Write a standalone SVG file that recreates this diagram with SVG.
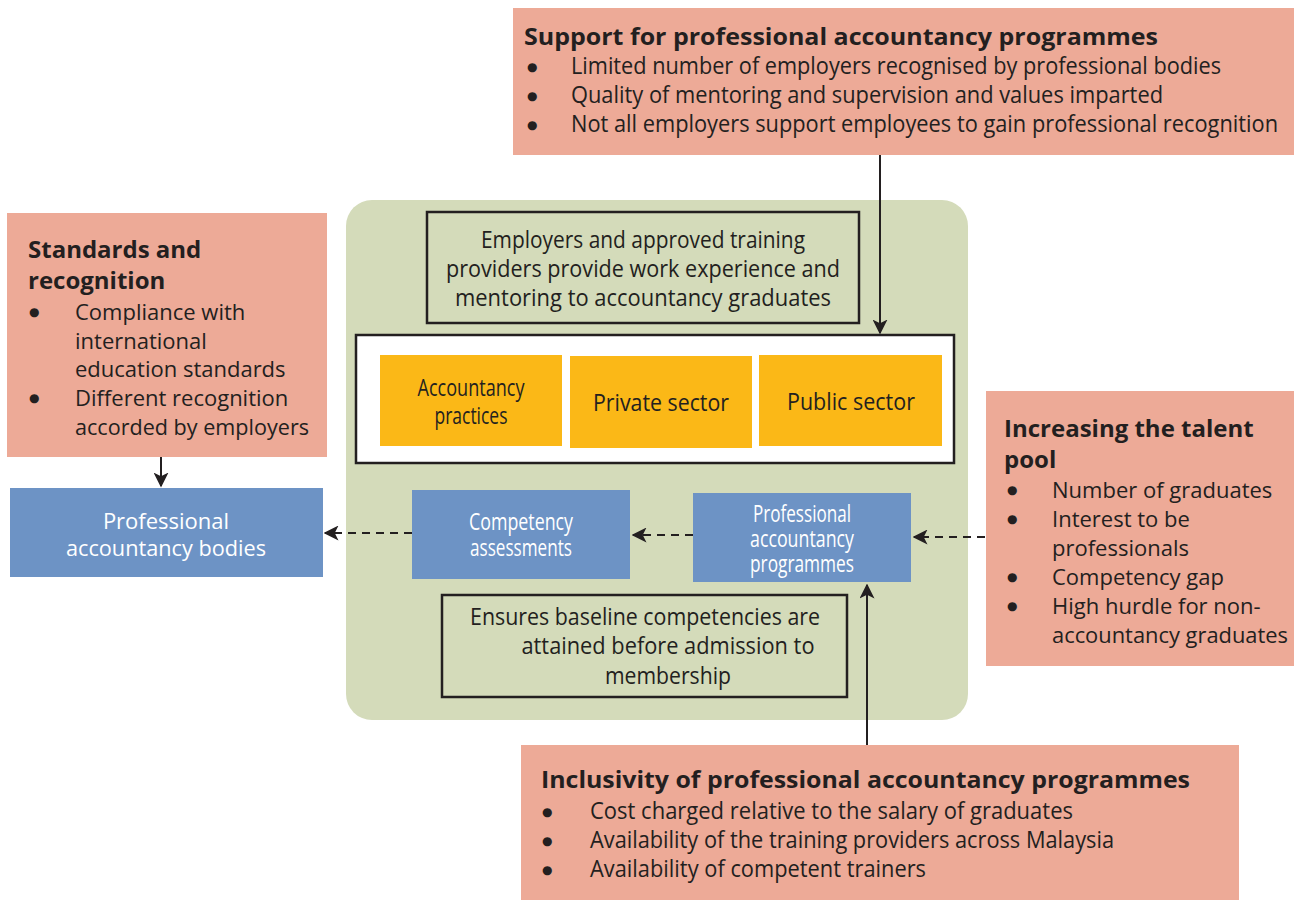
<svg xmlns="http://www.w3.org/2000/svg" width="1294" height="901" viewBox="0 0 1294 901">
<style>
.t{font-family:"Open Sans","Noto Sans",sans-serif;fill:#231F20;font-size:22px}
.n{font-size:24px}
.s{font-size:23px}
.b{font-weight:bold;font-size:24px}
.bu{font-family:"DejaVu Sans",sans-serif;fill:#231F20;font-size:12px}
.w{fill:#FFFFFF;text-anchor:middle}
.c{text-anchor:middle}
.pink{fill:#EDAA97}
.blue{fill:#6D93C5}
.org{fill:#FBB817}
.ln{stroke:#231F20;stroke-width:2;fill:none}
.dash{stroke:#231F20;stroke-width:2.2;fill:none;stroke-dasharray:8,6}
</style>
<defs>
<marker id="ah2" viewBox="0 0 10 10" refX="9" refY="5" markerWidth="15" markerHeight="15" markerUnits="userSpaceOnUse" orient="auto">
<path d="M0,0 L10,5 L0,10 L2.5,5 Z" fill="#231F20"/>
</marker>
</defs>
<rect x="0" y="0" width="1294" height="901" fill="#FFFFFF"/>

<g id="center-bg">
<rect x="346" y="200" width="622" height="520" rx="26" fill="#D4DBBA"/>
</g>

<g id="top-box">
<rect class="pink" x="513" y="8" width="781" height="147"/>
<text class="t b" x="524" y="45" textLength="634" lengthAdjust="spacingAndGlyphs">Support for professional accountancy programmes</text>
<text class="bu" x="527" y="71">●</text>
<text class="t n" x="571" y="74" textLength="650" lengthAdjust="spacingAndGlyphs">Limited number of employers recognised by professional bodies</text>
<text class="bu" x="527" y="100">●</text>
<text class="t n" x="571" y="103" textLength="592" lengthAdjust="spacingAndGlyphs">Quality of mentoring and supervision and values imparted</text>
<text class="bu" x="527" y="129">●</text>
<text class="t n" x="571" y="132" textLength="707" lengthAdjust="spacingAndGlyphs">Not all employers support employees to gain professional recognition</text>
</g>

<g id="left-box">
<rect class="pink" x="7" y="213" width="320" height="244"/>
<text class="t b" x="28" y="258">Standards and</text>
<text class="t b" x="28" y="289">recognition</text>
<text class="bu" x="29" y="316">●</text>
<text class="t" x="75" y="320">Compliance with</text>
<text class="t" x="75" y="349">international</text>
<text class="t" x="75" y="377">education standards</text>
<text class="bu" x="29" y="402">●</text>
<text class="t" x="75" y="406">Different recognition</text>
<text class="t" x="75" y="435" textLength="234" lengthAdjust="spacingAndGlyphs">accorded by employers</text>
</g>

<g id="bodies">
<rect class="blue" x="10" y="488" width="313" height="89"/>
<text class="t w" x="166" y="529">Professional</text>
<text class="t w" x="166" y="556" textLength="200" lengthAdjust="spacingAndGlyphs">accountancy bodies</text>
</g>

<g id="employers">
<rect x="427" y="212" width="432" height="111" fill="none" stroke="#231F20" stroke-width="2.5"/>
<text class="t n c" x="643" y="248" textLength="324" lengthAdjust="spacingAndGlyphs">Employers and approved training</text>
<text class="t n c" x="643" y="277" textLength="394" lengthAdjust="spacingAndGlyphs">providers provide work experience and</text>
<text class="t n c" x="643" y="306" textLength="376" lengthAdjust="spacingAndGlyphs">mentoring to accountancy graduates</text>
</g>

<g id="sectors">
<rect x="356" y="335" width="598" height="128" fill="#FFFFFF" stroke="#231F20" stroke-width="2.5"/>
</g>
<g id="practices">
<rect class="org" x="380" y="355" width="182" height="91"/>
<text class="t n c" x="471" y="396" textLength="107" lengthAdjust="spacingAndGlyphs">Accountancy</text>
<text class="t n c" x="471" y="424" textLength="73" lengthAdjust="spacingAndGlyphs">practices</text>
</g>
<g id="private">
<rect class="org" x="570" y="356" width="182" height="92"/>
<text class="t n c" x="661" y="411" textLength="136" lengthAdjust="spacingAndGlyphs">Private sector</text>
</g>
<g id="public">
<rect class="org" x="759" y="355" width="183" height="91"/>
<text class="t n c" x="851" y="410" textLength="128" lengthAdjust="spacingAndGlyphs">Public sector</text>
</g>

<g id="competency">
<rect class="blue" x="412" y="490" width="218" height="89"/>
<text class="t n w" x="521" y="530" textLength="104" lengthAdjust="spacingAndGlyphs">Competency</text>
<text class="t n w" x="521" y="556" textLength="102" lengthAdjust="spacingAndGlyphs">assessments</text>
</g>

<g id="programmes">
<rect class="blue" x="693" y="493" width="218" height="89"/>
<text class="t s w" x="802" y="522" textLength="98" lengthAdjust="spacingAndGlyphs">Professional</text>
<text class="t s w" x="802" y="547" textLength="104" lengthAdjust="spacingAndGlyphs">accountancy</text>
<text class="t s w" x="802" y="572" textLength="104" lengthAdjust="spacingAndGlyphs">programmes</text>
</g>

<g id="ensures">
<rect x="442" y="595" width="405" height="102" fill="none" stroke="#231F20" stroke-width="2.5"/>
<text class="t n c" x="645" y="625" textLength="350" lengthAdjust="spacingAndGlyphs">Ensures baseline competencies are</text>
<text class="t n c" x="668" y="654" textLength="293" lengthAdjust="spacingAndGlyphs">attained before admission to</text>
<text class="t n c" x="668" y="684" textLength="126" lengthAdjust="spacingAndGlyphs">membership</text>
</g>

<g id="right-box">
<rect class="pink" x="986" y="391" width="308" height="275"/>
<text class="t b" x="1004" y="437">Increasing the talent</text>
<text class="t b" x="1004" y="468">pool</text>
<text class="bu" x="1007" y="494">●</text>
<text class="t" x="1052" y="498">Number of graduates</text>
<text class="bu" x="1007" y="523">●</text>
<text class="t" x="1052" y="527">Interest to be</text>
<text class="t" x="1052" y="556">professionals</text>
<text class="bu" x="1007" y="581">●</text>
<text class="t" x="1052" y="585">Competency gap</text>
<text class="bu" x="1007" y="610">●</text>
<text class="t" x="1052" y="614">High hurdle for non-</text>
<text class="t" x="1052" y="643" textLength="236" lengthAdjust="spacingAndGlyphs">accountancy graduates</text>
</g>

<g id="bottom-box">
<rect class="pink" x="521" y="745" width="718" height="155"/>
<text class="t b" x="541" y="788" textLength="649" lengthAdjust="spacingAndGlyphs">Inclusivity of professional accountancy programmes</text>
<text class="bu" x="542" y="816">●</text>
<text class="t n" x="590" y="819" textLength="483" lengthAdjust="spacingAndGlyphs">Cost charged relative to the salary of graduates</text>
<text class="bu" x="542" y="845">●</text>
<text class="t n" x="590" y="848" textLength="524" lengthAdjust="spacingAndGlyphs">Availability of the training providers across Malaysia</text>
<text class="bu" x="542" y="874">●</text>
<text class="t n" x="590" y="877" textLength="336" lengthAdjust="spacingAndGlyphs">Availability of competent trainers</text>
</g>

<g id="connectors">
<line class="ln" x1="880" y1="155" x2="880" y2="333" marker-end="url(#ah2)"/>
<line class="ln" x1="161" y1="457" x2="161" y2="486" marker-end="url(#ah2)"/>
<line class="ln" x1="867" y1="745" x2="867" y2="585" marker-end="url(#ah2)"/>
<line class="dash" x1="412" y1="533" x2="325" y2="533" marker-end="url(#ah2)"/>
<line class="dash" x1="693" y1="535" x2="633" y2="535" marker-end="url(#ah2)"/>
<line class="dash" x1="985" y1="537" x2="914" y2="537" marker-end="url(#ah2)"/>
</g>
</svg>
